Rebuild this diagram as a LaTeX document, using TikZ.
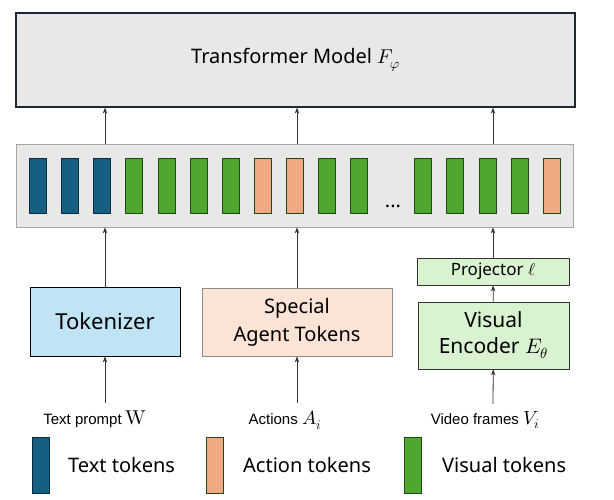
\documentclass[tikz,border=0pt]{standalone}
\usepackage{fontspec}
\usepackage{unicode-math}
\setmainfont{Noto Sans}
\setmathfont{Latin Modern Math}
\newfontfamily\labelfont{Liberation Sans}
\usetikzlibrary{arrows.meta}
\definecolor{panel}{HTML}{E8E8E8}
\definecolor{navy}{HTML}{1A2838}
\definecolor{seqline}{HTML}{A6A6A6}
\definecolor{tokfill}{HTML}{C1E4F5}
\definecolor{spfill}{HTML}{FBE3D6}
\definecolor{spline}{HTML}{8C8C8C}
\definecolor{visfill}{HTML}{D9F2D0}
\definecolor{txtblue}{HTML}{156082}
\definecolor{visgreen}{HTML}{4EA72E}
\definecolor{actorange}{HTML}{F1A983}
\definecolor{blueedge}{HTML}{0B2A3B}
\definecolor{greenedge}{HTML}{1E4A12}
\definecolor{arrline}{HTML}{333333}
\begin{document}
\begin{tikzpicture}[x=1pt,y=-1pt,
    box/.style={draw=arrline, line width=0.8pt, inner sep=0pt, align=center},
    tok/.style={line width=0.8pt, minimum width=17pt, minimum height=55pt, inner sep=0pt},
    arr/.style={-{Stealth[length=6pt,width=4.5pt]}, draw=arrline, line width=0.8pt},
    lab/.style={inner sep=0pt, font=\labelfont\fontsize{15}{18}\selectfont}]
  \useasboundingbox (0,0) rectangle (614,500);
  \node at (295.5,60) [box, fill=panel, draw=navy, line width=1.3pt, minimum width=559pt, minimum height=94pt, font=\fontsize{20}{24}\selectfont] (tf) {Transformer Model $F_{\varphi}$};
  \node at (294.5,185.5) [draw=seqline, fill=panel, line width=0.8pt, minimum width=557pt, minimum height=83pt] (seq) {};
  % token row, slot 11 holds the dots
  \foreach \i/\c/\e in {0/txtblue/blueedge, 1/txtblue/blueedge, 2/txtblue/blueedge,
      3/visgreen/greenedge, 4/visgreen/greenedge, 5/visgreen/greenedge, 6/visgreen/greenedge,
      7/actorange/greenedge, 8/actorange/greenedge, 9/visgreen/greenedge, 10/visgreen/greenedge,
      12/visgreen/greenedge, 13/visgreen/greenedge, 14/visgreen/greenedge, 15/visgreen/greenedge,
      16/actorange/greenedge}
    \node at ({38+32.1*\i},185.5) [tok, fill=\c, draw=\e] (t\i) {};
  \node at (393,208) [anchor=base, inner sep=0pt, font=\fontsize{20}{24}\selectfont] (dots) {...};
  \node at (105,321.5) [box, fill=tokfill, draw=black, minimum width=150pt, minimum height=69pt, font=\fontsize{22}{26}\selectfont] (tokz) {Tokenizer};
  \node at (297,322) [box, fill=spfill, draw=spline, minimum width=190pt, minimum height=68pt, font=\fontsize{20}{28}\selectfont] (spec) {Special\\Agent Tokens};
  \node at (493,271.5) [box, fill=visfill, minimum width=152pt, minimum height=27pt, font=\fontsize{17}{20}\selectfont] (proj) {Projector $\ell$};
  \node at (493.5,335.5) [box, fill=visfill, minimum width=151pt, minimum height=67pt, font=\fontsize{21}{26}\selectfont] (enc) {Visual\\Encoder $E_{\theta}$};
  % inputs
  \node at (95,419) [lab] (wlab) {Text prompt {\fontsize{20}{20}\selectfont$\symup{W}$}};
  \node at (285,420) [lab] (alab) {Actions {\fontsize{19}{20}\selectfont$A_i$}};
  \node at (485,420) [lab] (vlab) {Video frames {\fontsize{19}{20}\selectfont$V_i$}};
  \coordinate (win) at (105,403);
  \coordinate (ain) at (297,403);
  \coordinate (vin) at (493,404);
  \draw[arr] (win) -- (tokz);
  \draw[arr] (ain) -- (spec);
  \draw[arr] (vin) -- (enc);
  \draw[arr] (tokz) -- (tokz |- seq.south);
  \draw[arr] (spec) -- (spec |- seq.south);
  \draw[arr] (enc) -- (proj);
  \draw[arr] (proj) -- (proj |- seq.south);
  \draw[arr] (seq.north -| tokz) -- (tf.south -| tokz);
  \draw[arr] (seq.north -| spec) -- (tf.south -| spec);
  \draw[arr] (seq.north -| proj) -- (tf.south -| proj);
  % legend
  \node at (40.5,465) [tok, minimum height=56pt, fill=txtblue, draw=blueedge] (ltxt) {};
  \node at (68,465) [anchor=west, inner sep=0pt, font=\fontsize{20}{24}\selectfont] (ltxtl) {Text tokens};
  \node at (215,465) [tok, minimum height=56pt, fill=actorange, draw=greenedge] (lact) {};
  \node at (243,465) [anchor=west, inner sep=0pt, font=\fontsize{20}{24}\selectfont] (lactl) {Action tokens};
  \node at (413,465) [tok, minimum height=56pt, fill=visgreen, draw=greenedge] (lvis) {};
  \node at (442,465) [anchor=west, inner sep=0pt, font=\fontsize{20}{24}\selectfont] (lvisl) {Visual tokens};
\end{tikzpicture}
\end{document}
